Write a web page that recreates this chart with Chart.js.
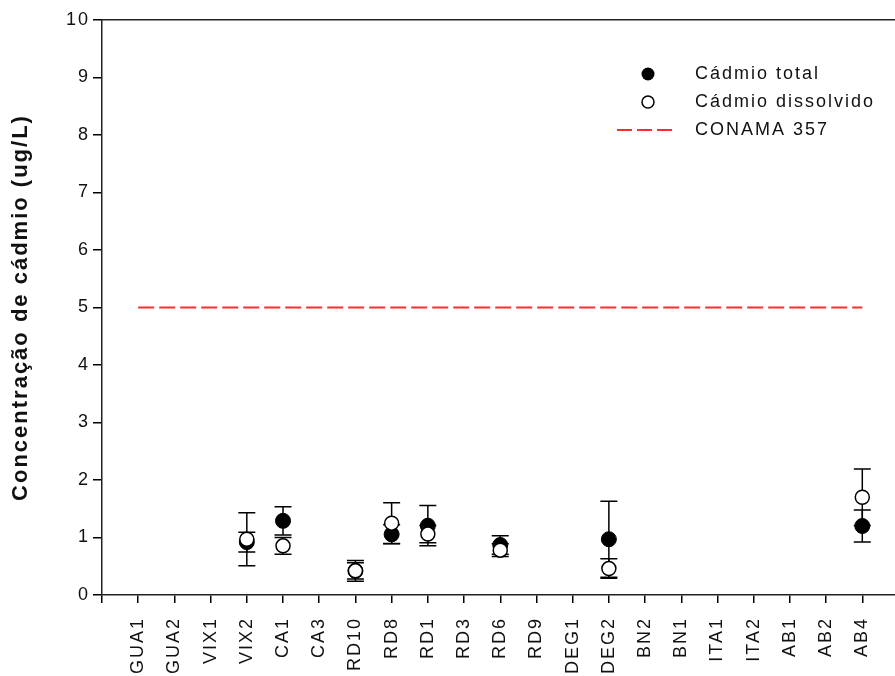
<!DOCTYPE html>
<html>
<head>
<meta charset="utf-8">
<script src="https://cdn.jsdelivr.net/npm/chart.js@4/dist/chart.umd.min.js"></script>
<style>
  html, body { margin: 0; padding: 0; background: #fff; overflow: hidden; }
  #wrap { width: 907px; height: 676px; }
</style>
</head>
<body>
<div id="wrap"><canvas id="c" width="907" height="676"></canvas></div>
<script>
// Sampling points along the river basin
const categories = ['GUA1','GUA2','VIX1','VIX2','CA1','CA3','RD10','RD8','RD1','RD3','RD6','RD9','DEG1','DEG2','BN2','BN1','ITA1','ITA2','AB1','AB2','AB4'];

// Mean cadmium concentrations (ug/L) and standard deviations; null = not detected
const totalMean     = [null, null, null, 0.92, 1.29, null, 0.42, 1.055, 1.205, null, 0.87, null, null, 0.97, null, null, null, null, null, null, 1.20];
const totalSd       = [null, null, null, 0.17, 0.245, null, 0.18, 0.165, 0.35, null, 0.16, null, null, 0.66, null, null, null, null, null, null, 0.28];
const dissolvedMean = [null, null, null, 0.97, 0.855, null, 0.42, 1.25, 1.06, null, 0.78, null, null, 0.46, null, null, null, null, null, null, 1.70];
const dissolvedSd   = [null, null, null, 0.46, 0.145, null, 0.14, 0.355, 0.15, null, 0.11, null, null, 0.17, null, null, null, null, null, null, 0.49];

// CONAMA 357 limit for cadmium
const conamaLimit = 5;

const yTicks = [0,1,2,3,4,5,6,7,8,9,10];

const FONT = "'Liberation Sans', Arial, sans-serif";

function toPoints(means, sds) {
  const pts = [];
  means.forEach((v, i) => { if (v !== null) pts.push({ x: i, y: v, sd: sds[i] }); });
  return pts;
}

// Slightly wider letter spacing for all chart text
const textSpacing = {
  id: 'textSpacing',
  beforeDraw(chart) {
    if ('letterSpacing' in chart.ctx) chart.ctx.letterSpacing = '2px';
  }
};

// Vertical error bars with caps, drawn below the markers
const errorBars = {
  id: 'errorBars',
  beforeDatasetsDraw(chart) {
    const { ctx, scales: { x, y } } = chart;
    ctx.save();
    ctx.strokeStyle = '#000';
    ctx.lineWidth = 1.5;
    const cap = 8.5;
    chart.data.datasets.forEach((ds) => {
      if (!ds.errorBars) return;
      ds.data.forEach(p => {
        const px = x.getPixelForValue(p.x);
        const top = y.getPixelForValue(p.y + p.sd);
        const bot = y.getPixelForValue(p.y - p.sd);
        ctx.beginPath();
        ctx.moveTo(px, top); ctx.lineTo(px, bot);
        ctx.moveTo(px - cap, top); ctx.lineTo(px + cap, top);
        ctx.moveTo(px - cap, bot); ctx.lineTo(px + cap, bot);
        ctx.stroke();
      });
    });
    ctx.restore();
  }
};

// Legend drawn inside the plot area, upper right
const innerLegend = {
  id: 'innerLegend',
  afterDraw(chart) {
    const { ctx } = chart;
    const ds = chart.data.datasets;
    const symX = 648, textX = 695;
    const rows = [74, 102, 130];
    ctx.save();
    ctx.font = '18px ' + FONT;
    ctx.textBaseline = 'middle';
    ctx.textAlign = 'left';
    // filled marker
    ctx.beginPath();
    ctx.arc(symX, rows[0], 6.5, 0, Math.PI * 2);
    ctx.fillStyle = '#000';
    ctx.fill();
    // open marker
    ctx.beginPath();
    ctx.arc(symX, rows[1], 6, 0, Math.PI * 2);
    ctx.fillStyle = '#fff';
    ctx.fill();
    ctx.lineWidth = 1.5;
    ctx.strokeStyle = '#000';
    ctx.stroke();
    // dashed limit line
    ctx.beginPath();
    ctx.setLineDash([15, 5]);
    ctx.strokeStyle = ds[2].borderColor;
    ctx.lineWidth = 2;
    ctx.moveTo(617, rows[2]);
    ctx.lineTo(672, rows[2]);
    ctx.stroke();
    ctx.setLineDash([]);
    ctx.fillStyle = '#111';
    ctx.fillText(ds[0].label, textX, rows[0]);
    ctx.fillText(ds[1].label, textX, rows[1]);
    ctx.fillText(ds[2].label, textX, rows[2]);
    ctx.restore();
  }
};

new Chart(document.getElementById('c'), {
  type: 'scatter',
  data: {
    datasets: [
      {
        label: 'Cádmio total',
        data: toPoints(totalMean, totalSd),
        errorBars: true,
        pointRadius: 7.5,
        pointHoverRadius: 7.5,
        backgroundColor: '#000',
        borderColor: '#000',
        borderWidth: 1,
        order: 2
      },
      {
        label: 'Cádmio dissolvido',
        data: toPoints(dissolvedMean, dissolvedSd),
        errorBars: true,
        pointRadius: 7,
        pointHoverRadius: 7,
        backgroundColor: '#fff',
        borderColor: '#000',
        borderWidth: 1.5,
        order: 1
      },
      {
        label: 'CONAMA 357',
        type: 'line',
        data: [{ x: 0, y: conamaLimit }, { x: categories.length - 1, y: conamaLimit }],
        borderColor: 'rgb(255,45,45)',
        borderWidth: 2,
        borderDash: [16, 5],
        pointRadius: 0,
        fill: false,
        order: 3
      }
    ]
  },
  options: {
    responsive: false,
    animation: false,
    events: [],
    layout: { padding: { top: 20, left: 0, right: 2.7, bottom: 0 } },
    plugins: { legend: { display: false }, tooltip: { enabled: false } },
    scales: {
      x: {
        type: 'linear',
        position: 'bottom',
        min: -1,
        max: categories.length,
        afterBuildTicks(scale) {
          const t = [];
          for (let i = -1; i <= categories.length; i++) t.push({ value: i });
          scale.ticks = t;
        },
        afterFit(scale) {
          scale.height = 81;
          scale.paddingLeft = 0;
          scale.paddingRight = 0;
        },
        grid: { drawOnChartArea: false, drawTicks: true, tickLength: 8, color: '#000', lineWidth: 1.5 },
        border: { display: true, color: '#222', width: 1.5 },
        ticks: {
          autoSkip: false,
          minRotation: 90,
          maxRotation: 90,
          padding: 14,
          color: '#111',
          font: { family: FONT, size: 18 },
          callback: (v) => (Number.isInteger(v) && v >= 0 && v < categories.length) ? categories[v] : ''
        }
      },
      xTop: {
        type: 'linear',
        position: 'top',
        min: -1,
        max: categories.length,
        afterFit(scale) {
          scale.height = 0;
          scale.paddingLeft = 0;
          scale.paddingRight = 0;
        },
        grid: { display: false },
        border: { display: true, color: '#222', width: 1.5 },
        ticks: { display: false }
      },
      y: {
        min: 0,
        max: 10,
        afterBuildTicks(scale) { scale.ticks = yTicks.map(v => ({ value: v })); },
        afterFit(scale) { scale.width = 102; },
        grid: { drawOnChartArea: false, drawTicks: true, tickLength: 9, color: '#000', lineWidth: 1.5 },
        border: { display: true, color: '#222', width: 1.5 },
        ticks: {
          padding: 3,
          color: '#111',
          font: { family: FONT, size: 18 }
        },
        title: {
          display: true,
          text: 'Concentração de cádmio (ug/L)',
          color: '#111',
          font: { family: FONT, size: 22, weight: 'bold' },
          padding: { top: 8, bottom: 0 }
        }
      }
    }
  },
  plugins: [textSpacing, errorBars, innerLegend]
});
</script>
</body>
</html>
